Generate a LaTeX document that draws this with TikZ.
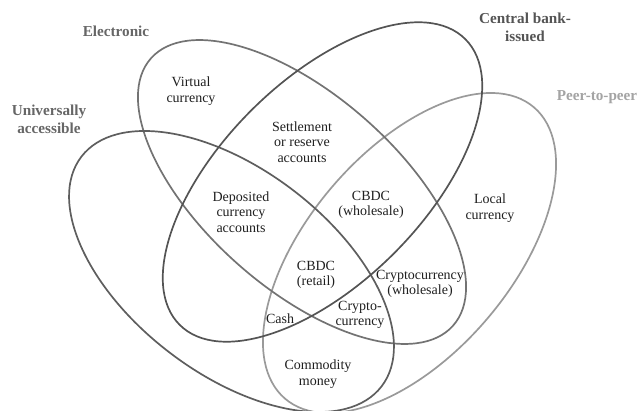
\documentclass[tikz,border=0pt]{standalone}
\usepackage{fontspec}
\setmainfont{Liberation Serif}
\begin{document}
\begin{tikzpicture}[x=1pt,y=1pt,
  ring/.style={line width=1.7pt},
  inner/.style={font=\fontsize{14}{15.5}\selectfont, text=black!88, align=center, inner sep=0pt},
  setlabel/.style={font=\fontsize{15.2}{18}\selectfont\bfseries, align=center, inner sep=0pt}]
\useasboundingbox (0,0) rectangle (637,-411);
\definecolor{ucol}{HTML}{5E5E5E}
\definecolor{ecol}{HTML}{737373}
\definecolor{ccol}{HTML}{545454}
\definecolor{pcol}{HTML}{9A9A9A}
% ellipses
\draw[ring, pcol, rotate around={49.5:(409.5,-253)}] (409.5,-253) ellipse [x radius=191.6pt, y radius=101.8pt];
\draw[ring, ecol, rotate around={-41.5:(302,-192)}] (302,-192) ellipse [x radius=201.7pt, y radius=96.5pt];
\draw[ring, ucol, rotate around={-37.4:(231.5,-271.5)}] (231.5,-271.5) ellipse [x radius=189pt, y radius=102pt];
\draw[ring, ccol, rotate around={45:(322.5,-182)}] (322.5,-182) ellipse [x radius=202pt, y radius=101pt];
% set labels
\node[setlabel, text=ucol!95] (lelec) at (116,-31) {Electronic};
\node[setlabel, text=ucol!95] (luniv) at (49,-119) {Universally\\accessible};
\node[setlabel, text=ccol] (lcb) at (525,-27) {Central bank-\\issued};
\node[setlabel, text=pcol!90] (lp2p) at (597,-97) {Peer-to-peer};
% region labels
\node[inner] (virt) at (191,-91) {Virtual\\currency};
\node[inner] (settle) at (302,-142) {Settlement\\or reserve\\accounts};
\node[inner] (depo) at (241,-212) {Deposited\\currency\\accounts};
\node[inner] (cbdcw) at (371,-205) {CBDC\\(wholesale)};
\node[inner] (local) at (490,-208) {Local\\currency};
\node[inner] (cbdcr) at (316,-275) {CBDC\\(retail)};
\node[inner] (cryw) at (420,-284) {Cryptocurrency\\(wholesale)};
\node[inner] (cry) at (360,-315) {Crypto-\\currency};
\node[inner] (cash) at (280,-319) {Cash};
\node[inner] (comm) at (318,-374) {Commodity\\money};
\end{tikzpicture}
\end{document}
